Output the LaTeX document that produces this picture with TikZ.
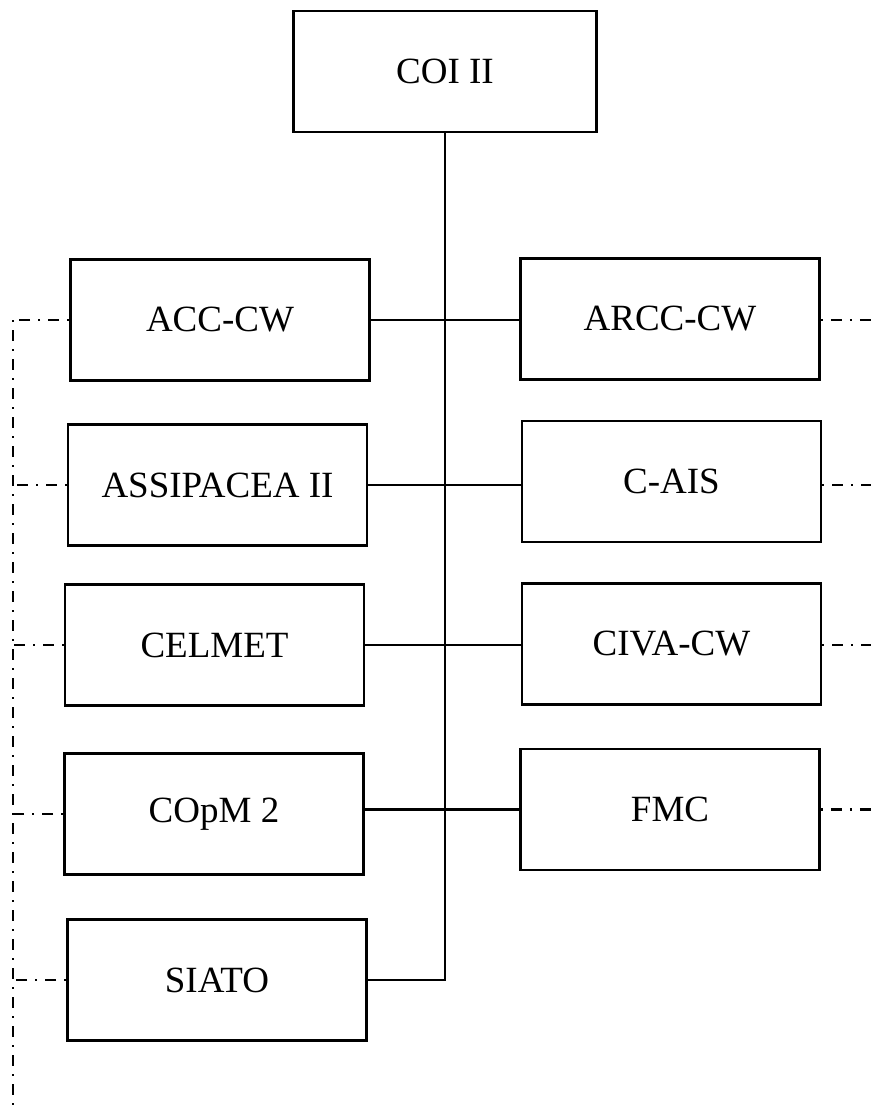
\documentclass[tikz,border=0pt]{standalone}
\usepackage{fontspec}
\setmainfont{Liberation Serif}
\usepackage{tikz}
\tikzstyle{orgbox} = [draw=black, fill=white, line width=2.8pt, rectangle, minimum width=299pt, minimum height=121pt, inner sep=0pt, font=\fontsize{37}{44}\selectfont]
\tikzstyle{link} = [line width=2.6pt]
\tikzstyle{dotlink} = [line width=2.6pt, dash pattern=on 2pt off 8pt on 11pt off 8pt]
\newcommand{\lbl}[1]{{#1}}

\begin{document}
\begin{tikzpicture}[x=1pt, y=-1pt]
\useasboundingbox (0,0) rectangle (871,1108);
% top
\node [orgbox, minimum width=303pt] (coi) at (445,71.5) {\lbl{COI II}};
% left column
\node [orgbox] (acc)   at (220,320)   {\lbl{ACC-CW}};
\node [orgbox] (assi)  at (217.5,485) {\lbl{ASSIPACEA II}};
\node [orgbox] (cel)   at (214.5,645) {\lbl{CELMET}};
\node [orgbox] (copm)  at (214,814)   {\lbl{COpM 2}};
\node [orgbox] (siato) at (217,980)   {\lbl{SIATO}};
% right column
\node [orgbox] (arcc)  at (670,319)   {\lbl{ARCC-CW}};
\node [orgbox] (cais)  at (671.5,481.5) {\lbl{C-AIS}};
\node [orgbox] (civa)  at (671.5,644) {\lbl{CIVA-CW}};
\node [orgbox] (fmc)   at (670,809.5) {\lbl{FMC}};
% buses
\coordinate (lbus) at (13,320);
\coordinate (lend) at (13,1108);
\coordinate (rbus) at (871,320);

\draw [link] (coi.south) -- (coi.south |- siato.east) -- (siato.east);
\draw [link] (acc.east) -- (acc.east -| arcc.west);
\draw [link] (assi.east) -- (assi.east -| cais.west);
\draw [link] (cel.east) -- (cel.east -| civa.west);
\draw [link] (copm.east |- fmc.west) -- (fmc.west);

\draw [dotlink] (lbus) -- (lend);
\foreach \n in {acc,assi,cel,copm,siato}
  \draw [dotlink] (\n.west) -- (\n.west -| lbus);
\draw [dotlink] (arcc.east |- acc.east) -- (rbus |- acc.east);
\draw [dotlink] (cais.east |- assi.east) -- (rbus |- assi.east);
\draw [dotlink] (civa.east |- cel.east) -- (rbus |- cel.east);
\draw [dotlink] (fmc.east) -- (rbus |- fmc.east);
\end{tikzpicture}
\end{document}
